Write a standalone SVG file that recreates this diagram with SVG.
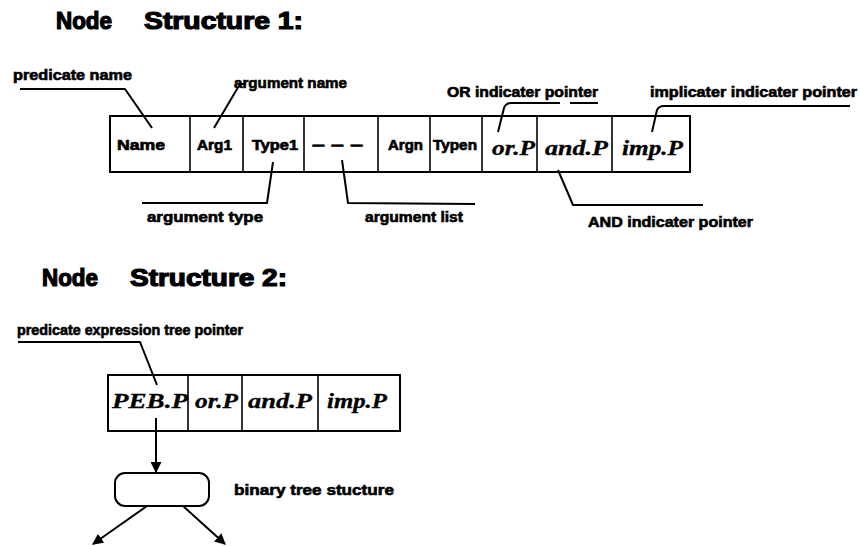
<svg xmlns="http://www.w3.org/2000/svg" width="860" height="546" viewBox="0 0 860 546">
<style>
.title{font-family:"Liberation Sans",Arial,sans-serif;font-weight:bold;font-size:23px;fill:#000;stroke:#000;stroke-width:1.2}
.lbl{font-family:"Liberation Sans",Arial,sans-serif;font-weight:bold;font-size:14px;fill:#000;stroke:#000;stroke-width:0.6}
.cell{font-family:"Liberation Sans",Arial,sans-serif;font-weight:bold;font-size:15px;fill:#000;stroke:#000;stroke-width:0.7}
.ptr{font-family:"Liberation Serif","Times New Roman",serif;font-weight:bold;font-style:italic;font-size:20px;fill:#000;stroke:#000;stroke-width:0.3}
.box{fill:#fff;stroke:#000;stroke-width:2}
.div{stroke:#000;stroke-width:1.6}
.con{fill:none;stroke:#000;stroke-width:2;stroke-linejoin:round}
</style>
<defs>
<marker id="ah" viewBox="0 0 10 10" refX="9" refY="5" markerWidth="5.5" markerHeight="5.5" orient="auto" markerUnits="strokeWidth">
<path d="M0,0 L10,5 L0,10 z" fill="#000"/>
</marker>
</defs>
<rect width="860" height="546" fill="#fff"/>

<g id="title1"><text class="title" y="29"><tspan x="56" textLength="56" lengthAdjust="spacingAndGlyphs">Node</tspan><tspan x="144" textLength="159" lengthAdjust="spacingAndGlyphs">Structure 1:</tspan></text></g>
<g id="title2"><text class="title" y="286"><tspan x="42" textLength="56" lengthAdjust="spacingAndGlyphs">Node</tspan><tspan x="130" textLength="157" lengthAdjust="spacingAndGlyphs">Structure 2:</tspan></text></g>

<g id="record1">
<rect class="box" x="110" y="116" width="580" height="56"/>
<line class="div" x1="190" y1="116" x2="190" y2="172"/>
<line class="div" x1="243" y1="116" x2="243" y2="172"/>
<line class="div" x1="304" y1="116" x2="304" y2="172"/>
<line class="div" x1="378" y1="116" x2="378" y2="172"/>
<line class="div" x1="430" y1="116" x2="430" y2="172"/>
<line class="div" x1="482" y1="116" x2="482" y2="172"/>
<line class="div" x1="537" y1="116" x2="537" y2="172"/>
<line class="div" x1="612" y1="116" x2="612" y2="172"/>
<text class="cell" x="117" y="150" textLength="48" lengthAdjust="spacingAndGlyphs">Name</text>
<text class="cell" x="197" y="150" textLength="35" lengthAdjust="spacingAndGlyphs">Arg1</text>
<text class="cell" x="252" y="150" textLength="46" lengthAdjust="spacingAndGlyphs">Type1</text>
<text class="cell" x="312" y="150" textLength="51" lengthAdjust="spacingAndGlyphs">– – –</text>
<text class="cell" x="388" y="150" textLength="35" lengthAdjust="spacingAndGlyphs">Argn</text>
<text class="cell" x="433" y="150" textLength="44" lengthAdjust="spacingAndGlyphs">Typen</text>
<text class="ptr" x="492" y="155" textLength="43" lengthAdjust="spacingAndGlyphs">or.P</text>
<text class="ptr" x="545" y="155" textLength="63" lengthAdjust="spacingAndGlyphs">and.P</text>
<text class="ptr" x="622" y="155" textLength="61" lengthAdjust="spacingAndGlyphs">imp.P</text>
</g>

<g id="record2">
<rect class="box" x="108" y="375" width="292" height="56"/>
<line class="div" x1="188" y1="375" x2="188" y2="431"/>
<line class="div" x1="242" y1="375" x2="242" y2="431"/>
<line class="div" x1="318" y1="375" x2="318" y2="431"/>
<text class="ptr" x="112" y="408" textLength="76" lengthAdjust="spacingAndGlyphs">PEB.P</text>
<text class="ptr" x="195" y="408" textLength="43" lengthAdjust="spacingAndGlyphs">or.P</text>
<text class="ptr" x="248" y="408" textLength="64" lengthAdjust="spacingAndGlyphs">and.P</text>
<text class="ptr" x="327" y="408" textLength="60" lengthAdjust="spacingAndGlyphs">imp.P</text>
</g>

<g id="treenode">
<rect class="box" x="115" y="473" width="94" height="33" rx="10" ry="10"/>
</g>

<g id="labels">
<text class="lbl" x="13" y="80" textLength="119" lengthAdjust="spacingAndGlyphs">predicate name</text>
<text class="lbl" x="234" y="88" textLength="113" lengthAdjust="spacingAndGlyphs">argument name</text>
<text class="lbl" x="447" y="97" textLength="151" lengthAdjust="spacingAndGlyphs">OR indicater pointer</text>
<text class="lbl" x="650" y="97" textLength="207" lengthAdjust="spacingAndGlyphs">implicater indicater pointer</text>
<text class="lbl" x="147" y="222" textLength="116" lengthAdjust="spacingAndGlyphs">argument type</text>
<text class="lbl" x="365" y="222" textLength="98" lengthAdjust="spacingAndGlyphs">argument list</text>
<text class="lbl" x="588" y="227" textLength="165" lengthAdjust="spacingAndGlyphs">AND indicater pointer</text>
<text class="lbl" x="17" y="335" textLength="226" lengthAdjust="spacingAndGlyphs">predicate expression tree pointer</text>
<text class="lbl" x="234" y="495" textLength="160" lengthAdjust="spacingAndGlyphs">binary tree stucture</text>
</g>

<g id="connectors">
<path class="con" d="M20,89 L125,89 L152,128"/>
<path class="con" d="M246,84 L240,84 L214,128"/>
<path class="con" d="M273,162 L267,203 L142,203"/>
<path class="con" d="M342,160 L348,203 L475,204"/>
<path class="con" d="M498,132 L504,108 Q506,103 511,103 L560,103 M570,103 L598,103"/>
<path class="con" d="M652,132 L657,110 Q659,106 664,106 L850,106"/>
<path class="con" d="M558,170 L573,205 L703,205"/>
<path class="con" d="M18,342 L140,342 L157,385"/>
<path class="con" d="M156,418 L156,472" stroke-width="1.6" marker-end="url(#ah)"/>
<path class="con" d="M147,506 L93,544" marker-end="url(#ah)"/>
<path class="con" d="M183,506 L225,544" marker-end="url(#ah)"/>
</g>
</svg>
